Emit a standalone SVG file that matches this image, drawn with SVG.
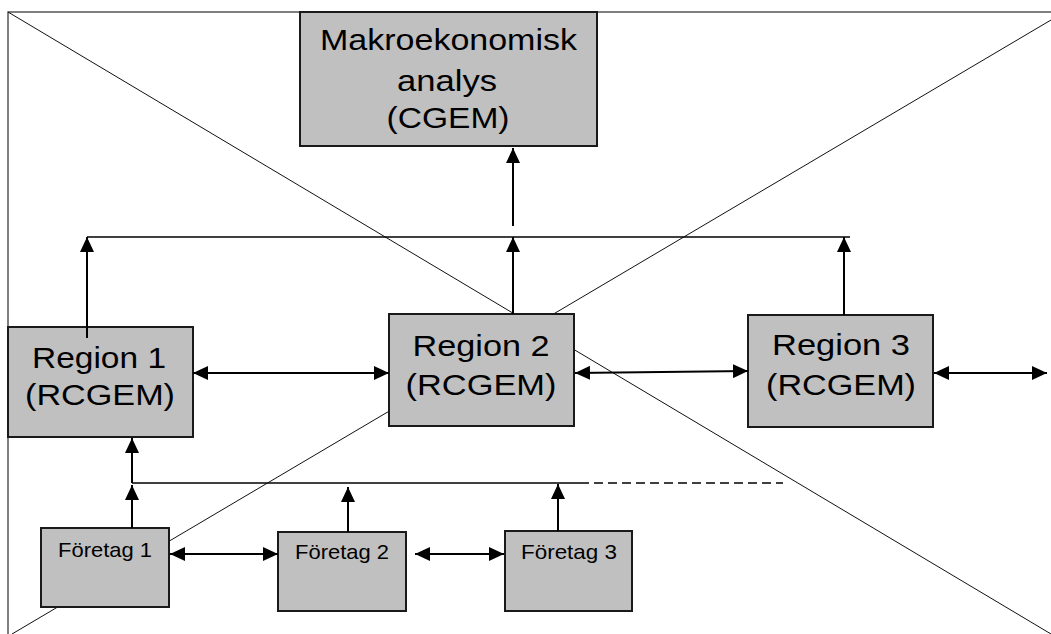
<svg xmlns="http://www.w3.org/2000/svg" width="1051" height="634" viewBox="0 0 1051 634">
  <style>
    .frame { stroke: #555; stroke-width: 1.5; fill: none; }
    .diag { stroke: #111; stroke-width: 1; fill: none; }
    .box { fill: #c0c0c0; stroke: #1a1a1a; stroke-width: 2; }
    .lbl { font-family: "Liberation Sans", Arial, sans-serif; font-size: 30px; fill: #000; text-anchor: middle; }
    .small { font-size: 21px; }
    .wire { stroke: #000; stroke-width: 2; fill: none; }
    .bus { stroke: #000; stroke-width: 1.6; fill: none; }
    .dash { stroke-dasharray: 9 5; }
  </style>
  <defs>
    <marker id="head" markerUnits="userSpaceOnUse" markerWidth="16" markerHeight="14" refX="15" refY="7" orient="auto-start-reverse">
      <path d="M0,0 L15,7 L0,14 Z" fill="#000"/>
    </marker>
  </defs>
  <rect width="1051" height="634" fill="#fff"/>

  <!-- outer frame and crossing lines -->
  <g id="frame">
    <path class="frame" d="M8,634 V12 H1051"/>
    <line class="diag" x1="8" y1="12" x2="1051" y2="634"/>
    <line class="diag" x1="1051" y1="20" x2="12" y2="634"/>
  </g>

  <g id="makro">
    <rect class="box" x="300" y="12" width="297" height="134"/>
    <text class="lbl" x="448.5" y="50" textLength="257" lengthAdjust="spacingAndGlyphs">Makroekonomisk</text>
    <text class="lbl" x="447" y="91" textLength="100" lengthAdjust="spacingAndGlyphs">analys</text>
    <text class="lbl" x="448" y="128" textLength="123" lengthAdjust="spacingAndGlyphs">(CGEM)</text>
  </g>

  <g id="region1">
    <rect class="box" x="8" y="327" width="185" height="110"/>
    <text class="lbl" x="99" y="368" textLength="134" lengthAdjust="spacingAndGlyphs">Region 1</text>
    <text class="lbl" x="100" y="405" textLength="150" lengthAdjust="spacingAndGlyphs">(RCGEM)</text>
  </g>

  <g id="region2">
    <rect class="box" x="389" y="314" width="185" height="112"/>
    <text class="lbl" x="481" y="356" textLength="137" lengthAdjust="spacingAndGlyphs">Region 2</text>
    <text class="lbl" x="481" y="395" textLength="151" lengthAdjust="spacingAndGlyphs">(RCGEM)</text>
  </g>

  <g id="region3">
    <rect class="box" x="748" y="315" width="185" height="112"/>
    <text class="lbl" x="841" y="355" textLength="138" lengthAdjust="spacingAndGlyphs">Region 3</text>
    <text class="lbl" x="841" y="395" textLength="150" lengthAdjust="spacingAndGlyphs">(RCGEM)</text>
  </g>

  <g id="foretag1">
    <rect class="box" x="41" y="528" width="128" height="79"/>
    <text class="lbl small" x="105" y="557" textLength="94" lengthAdjust="spacingAndGlyphs">Företag 1</text>
  </g>

  <g id="foretag2">
    <rect class="box" x="278" y="532" width="128" height="79"/>
    <text class="lbl small" x="342" y="559" textLength="94" lengthAdjust="spacingAndGlyphs">Företag 2</text>
  </g>

  <g id="foretag3">
    <rect class="box" x="505" y="531" width="127" height="80"/>
    <text class="lbl small" x="569" y="559" textLength="96" lengthAdjust="spacingAndGlyphs">Företag 3</text>
  </g>

  <g id="connectors">
    <!-- regional level up to the macro model -->
    <line class="wire" x1="513" y1="226" x2="513" y2="148" marker-end="url(#head)"/>
    <line class="bus" x1="87" y1="237" x2="850" y2="237"/>
    <line class="wire" x1="87" y1="338" x2="87" y2="237" marker-end="url(#head)"/>
    <line class="wire" x1="513" y1="314" x2="513" y2="237" marker-end="url(#head)"/>
    <line class="wire" x1="844" y1="315" x2="844" y2="237" marker-end="url(#head)"/>
    <!-- links between regions -->
    <line class="wire" x1="193" y1="373" x2="389" y2="373" marker-start="url(#head)" marker-end="url(#head)"/>
    <line class="wire" x1="575" y1="373" x2="748" y2="371" marker-start="url(#head)" marker-end="url(#head)"/>
    <line class="wire" x1="934" y1="373" x2="1047" y2="373" marker-start="url(#head)" marker-end="url(#head)"/>
    <!-- firm level up to region 1 -->
    <line class="bus" x1="132" y1="483" x2="580" y2="483"/>
    <line class="bus dash" x1="580" y1="483" x2="783" y2="483"/>
    <line class="wire" x1="132" y1="483" x2="132" y2="438" marker-end="url(#head)"/>
    <line class="wire" x1="132" y1="528" x2="132" y2="485" marker-end="url(#head)"/>
    <line class="wire" x1="348" y1="532" x2="348" y2="487" marker-end="url(#head)"/>
    <line class="wire" x1="558" y1="531" x2="558" y2="484" marker-end="url(#head)"/>
    <!-- links between firms -->
    <line class="wire" x1="170" y1="554" x2="278" y2="554" marker-start="url(#head)" marker-end="url(#head)"/>
    <line class="wire" x1="415" y1="554" x2="504" y2="554" marker-start="url(#head)" marker-end="url(#head)"/>
  </g>
</svg>
